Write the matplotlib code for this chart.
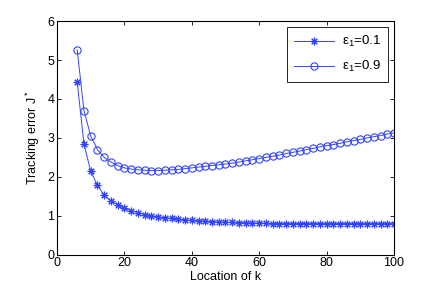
import matplotlib
matplotlib.use("Agg")
import matplotlib.pyplot as plt

plt.rcParams['font.family'] = ['Liberation Sans', 'DejaVu Sans']
plt.rcParams['mathtext.fontset'] = 'custom'
plt.rcParams['mathtext.rm'] = 'Liberation Sans'
plt.rcParams['mathtext.it'] = 'Liberation Sans'

k = list(range(6, 101, 2))
err_01 = [4.44, 2.84, 2.15, 1.78, 1.53, 1.38, 1.28, 1.20, 1.13, 1.08,
          1.03, 1.00, 0.97, 0.95, 0.93, 0.91, 0.90, 0.88, 0.87, 0.86,
          0.85, 0.84, 0.83, 0.83, 0.82, 0.82, 0.81, 0.81, 0.81, 0.80,
          0.80, 0.80, 0.80, 0.80, 0.80, 0.80, 0.80, 0.80, 0.80, 0.80,
          0.80, 0.80, 0.80, 0.80, 0.80, 0.80, 0.80, 0.80]
err_09 = [5.26, 3.70, 3.05, 2.70, 2.50, 2.38, 2.29, 2.23, 2.20, 2.18,
          2.17, 2.16, 2.16, 2.17, 2.18, 2.19, 2.21, 2.23, 2.25, 2.27,
          2.29, 2.31, 2.33, 2.35, 2.38, 2.41, 2.44, 2.47, 2.50, 2.53,
          2.56, 2.60, 2.63, 2.66, 2.70, 2.73, 2.77, 2.80, 2.83, 2.86,
          2.90, 2.93, 2.96, 3.00, 3.03, 3.06, 3.10, 3.13]
labels = ['ε$_1$=0.1', 'ε$_1$=0.9']
xticks = [0, 20, 40, 60, 80, 100]
yticks = [0, 1, 2, 3, 4, 5, 6]

fig = plt.figure(figsize=(4.36, 2.89), dpi=100)
ax = fig.add_axes([0.1307, 0.1187, 0.7730, 0.8083])
ax.plot(k, err_01, color='#3344ff', lw=0.7, marker=(8, 2, 0), ms=5.5, mew=0.8, label=labels[0])
ax.plot(k, err_09, color='#3344ff', lw=0.7, marker='o', ms=5.2, mfc='none', mew=0.8, label=labels[1])
ax.set_xlim(0, 100)
ax.set_ylim(0, 6)
ax.set_xticks(xticks)
ax.set_yticks(yticks)
ax.tick_params(direction='in', top=True, right=True, labelsize=9, length=3, width=0.6, pad=2)
for s in ax.spines.values():
    s.set_linewidth(0.8)
ax.set_xlabel('Location of k', fontsize=9, labelpad=1)
ax.set_ylabel('Tracking error J$^*$', fontsize=9, labelpad=4)
leg = ax.legend(loc='upper right', fontsize=9.5, fancybox=False, framealpha=1,
                edgecolor='black', handlelength=3.0, borderaxespad=0.45,
                labelspacing=0.75, borderpad=0.55, handletextpad=0.6)
leg.get_frame().set_linewidth(0.6)
fig.savefig('out.png', dpi=100)
